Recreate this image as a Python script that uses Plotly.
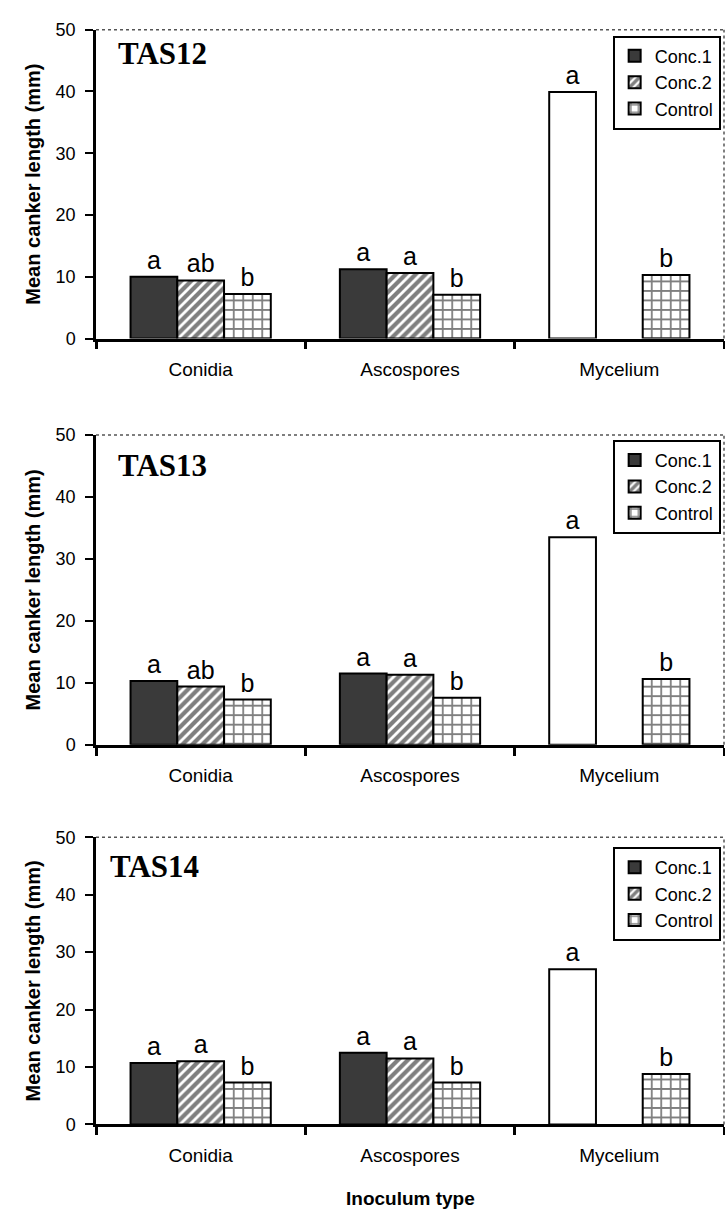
import plotly.graph_objects as go

W, H = 725, 1221

categories = ["Conidia", "Ascospores", "Mycelium"]
series_names = ["Conc.1", "Conc.2", "Control"]
panel_titles = ["TAS12", "TAS13", "TAS14"]
y_tick_values = [0, 10, 20, 30, 40, 50]

tas12_conc1 = [10.0, 11.2, 39.9]
tas12_conc2 = [9.4, 10.6, None]
tas12_control = [7.2, 7.1, 10.3]

tas13_conc1 = [10.3, 11.5, 33.5]
tas13_conc2 = [9.4, 11.3, None]
tas13_control = [7.3, 7.6, 10.6]

tas14_conc1 = [10.7, 12.5, 27.0]
tas14_conc2 = [11.0, 11.5, None]
tas14_control = [7.3, 7.3, 8.8]

tas12_letters = [["a", "a", "a"], ["ab", "a", ""], ["b", "b", "b"]]
tas13_letters = [["a", "a", "a"], ["ab", "a", ""], ["b", "b", "b"]]
tas14_letters = [["a", "a", "a"], ["a", "a", ""], ["b", "b", "b"]]

panels = [
    (tas12_conc1, tas12_conc2, tas12_control, tas12_letters),
    (tas13_conc1, tas13_conc2, tas13_control, tas13_letters),
    (tas14_conc1, tas14_conc2, tas14_control, tas14_letters),
]

# pixel layout (top, bottom) of each plot area
panel_px = [(20, 334), (432, 747), (841, 1133)]
legend_top_px = [26, 437, 851]
title_pos = [(0.032, 0.985), (0.032, 0.965), (0.019, 0.965)]
x_left_px, x_right_px = 96, 724

SANS = "Liberation Sans, Arial, sans-serif"
SERIF = "Liberation Serif, Times New Roman, serif"

fig = go.Figure()

for i, (c1, c2, ctl, letters) in enumerate(panels):
    n = "" if i == 0 else str(i + 1)
    m = str(i + 4)
    xa, ya = "x" + n, "y" + n
    leg = "legend" + n
    styles = [
        dict(color=["#3a3a3a", "#3a3a3a", "white"], line=dict(color="black", width=2)),
        dict(color="white", line=dict(color="black", width=2),
             pattern=dict(shape="/", fgcolor="black", bgcolor="white", size=7, solidity=0.6)),
        dict(color="white", line=dict(color="black", width=2),
             pattern=dict(shape="+", fgcolor="black", bgcolor="white", size=9.5, solidity=0.34)),
    ]
    for vals, name, style, txt in zip([c1, c2, ctl], series_names, styles, letters):
        fig.add_trace(go.Bar(
            x=categories, y=vals, name=name, marker=style,
            text=txt, textposition="outside", cliponaxis=False,
            textfont=dict(family=SANS, size=25, color="black"),
            constraintext="none",
            xaxis=xa, yaxis=ya, legend=leg, showlegend=True,
        ))

    top, bot = panel_px[i]
    dom_y = [1 - bot / H, 1 - top / H]
    dom_x = [x_left_px / W, x_right_px / W]
    fig.update_layout(**{
        "xaxis" + n: dict(
            domain=dom_x, anchor=ya, type="category",
            showline=True, linecolor="black", linewidth=2.5,
            ticks="outside", tickson="boundaries", ticklen=8, tickwidth=2.5, tickcolor="black",
            tickfont=dict(family=SANS, size=19, color="black"),
            ticklabelstandoff=12, showgrid=False, zeroline=False,
        ),
        "yaxis" + n: dict(
            domain=dom_y, anchor=xa, range=[0, 50], tickvals=y_tick_values,
            showline=True, linecolor="black", linewidth=2.5,
            ticks="outside", ticklen=8, tickwidth=2, tickcolor="black",
            tickfont=dict(family=SANS, size=18, color="black"),
            ticklabelstandoff=6,
            showgrid=False, zeroline=False,
            title=dict(text="<b>Mean canker length (mm)</b>", standoff=10,
                       font=dict(family=SANS, size=20, color="black")),
        ),
        # overlay axes that only draw the inner half of the crossing tick marks
        "xaxis" + m: dict(
            overlaying=xa, anchor=ya, domain=dom_x, range=[-0.5, 2.5],
            tickvals=[-0.5, 0.5, 1.5, 2.5], ticks="inside", ticklen=7, tickwidth=2.5,
            tickcolor="black", showticklabels=False, showline=False, showgrid=False, zeroline=False,
        ),
        "yaxis" + m: dict(
            overlaying=ya, anchor=xa, domain=dom_y, range=[0, 50],
            tickvals=y_tick_values, ticks="inside", ticklen=6, tickwidth=2,
            tickcolor="black", showticklabels=False, showline=False, showgrid=False, zeroline=False,
        ),
        leg: dict(
            x=0.994, xanchor="right", y=1 - legend_top_px[i] / H, yanchor="top",
            bordercolor="black", borderwidth=2, bgcolor="white",
            font=dict(family=SANS, size=18, color="black"),
            itemwidth=30, tracegroupgap=0,
        ),
    })
    # dotted chart-frame (top and right edges)
    fig.add_shape(type="line", xref=xa + " domain", yref=ya + " domain",
                  x0=0, x1=1, y0=1, y1=1, line=dict(color="#555", width=1.5, dash="dot"))
    fig.add_shape(type="line", xref=xa + " domain", yref=ya + " domain",
                  x0=1, x1=1, y0=0, y1=1, line=dict(color="#555", width=1.5, dash="dot"))
    tx, ty = title_pos[i]
    fig.add_annotation(text="<b>" + panel_titles[i] + "</b>", xref=xa + " domain", yref=ya + " domain",
                       x=tx, y=ty, xanchor="left", yanchor="top", showarrow=False,
                       font=dict(family=SERIF, size=31, color="black"))

fig.add_annotation(text="<b>Inoculum type</b>", xref="paper", yref="paper",
                   x=(x_left_px + x_right_px) / 2 / W, y=1 - 1208 / H,
                   xanchor="center", yanchor="middle", showarrow=False,
                   font=dict(family=SANS, size=19, color="black"))

fig.update_layout(
    width=W, height=H, margin=dict(l=0, r=0, t=0, b=0),
    plot_bgcolor="white", paper_bgcolor="white",
    barmode="group", bargap=0.33, bargroupgap=0,
    font=dict(family=SANS, color="black"),
)

fig.write_html("out.html", config={"displayModeBar": False},
               post_script="document.body.style.margin='0';document.body.style.overflow='hidden';")
